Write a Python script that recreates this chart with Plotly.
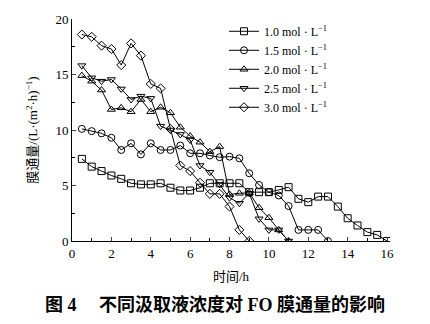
import plotly.graph_objects as go

# ---- data ----
x_10 = [0.5, 1.0, 1.5, 2.0, 2.5, 3.0, 3.5, 4.0, 4.5, 5.0, 5.5, 6.0, 6.5, 7.0, 7.5, 8.0,
        8.5, 9.0, 9.5, 10.0, 10.5, 11.0, 11.5, 12.0, 12.5, 13.0, 13.5, 14.0, 14.5, 15.0, 15.5, 16.0]
y_10 = [7.4, 6.7, 6.3, 5.9, 5.6, 5.2, 5.1, 5.1, 5.2, 4.8, 4.55, 4.55, 4.8, 5.2, 5.2, 5.2,
        5.2, 4.4, 4.4, 4.4, 4.6, 4.85, 3.8, 3.5, 4.0, 4.0, 3.1, 2.05, 1.4, 0.8, 0.55, 0.0]

x_15 = [0.5, 1.0, 1.5, 2.0, 2.5, 3.0, 3.5, 4.0, 4.5, 5.0, 5.5, 6.0, 6.5, 7.0, 7.5, 8.0,
        8.5, 9.0, 9.5, 10.0, 10.5, 11.0, 11.5, 12.0, 12.5, 13.0]
y_15 = [10.1, 9.9, 9.7, 9.3, 8.2, 8.8, 7.8, 8.8, 8.2, 8.2, 8.6, 7.9, 7.9, 7.7, 7.55, 7.6,
        7.45, 6.1, 5.05, 4.4, 4.1, 3.15, 1.0, 1.0, 1.0, 0.0]

x_20 = [0.5, 1.0, 1.5, 2.0, 2.5, 3.0, 3.5, 4.0, 4.5, 5.0, 5.5, 6.0, 6.5, 7.0, 7.5, 8.0,
        8.5, 9.0, 9.5, 10.0, 10.5, 11.0]
y_20 = [14.9, 14.4, 13.6, 11.85, 12.0, 11.65, 12.75, 11.65, 12.05, 11.55, 10.25, 9.45, 8.9, 8.05, 8.5, 4.2,
        4.3, 4.35, 3.0, 2.1, 1.0, 0.0]

x_25 = [0.5, 1.0, 1.5, 2.0, 2.5, 3.0, 3.5, 4.0, 4.5, 5.0, 5.5, 6.0, 6.5, 7.0, 7.5, 8.0,
        8.5, 9.0, 9.5, 10.0, 10.5, 11.0]
y_25 = [15.8, 14.7, 14.4, 14.55, 13.7, 12.75, 13.05, 12.85, 10.35, 10.0, 9.6, 9.1, 6.8, 6.2, 5.1, 3.9,
        3.4, 4.3, 2.0, 1.0, 1.0, 0.0]

x_30 = [0.5, 1.0, 1.5, 2.0, 2.5, 3.0, 3.5, 4.0, 4.5, 5.0, 5.5, 6.0, 6.5, 7.0, 7.5, 8.0, 8.5, 9.0]
y_30 = [18.6, 18.4, 17.6, 17.3, 15.85, 17.8, 16.7, 14.15, 13.75, 10.1, 6.8, 6.3, 5.25, 4.25, 4.25, 3.1, 1.0, 0.0]

series_names = ["1.0 mol · L<sup>−1</sup>", "1.5 mol · L<sup>−1</sup>", "2.0 mol · L<sup>−1</sup>",
                "2.5 mol · L<sup>−1</sup>", "3.0 mol · L<sup>−1</sup>"]
x_ticks = [0, 2, 4, 6, 8, 10, 12, 14, 16]
y_ticks = [0, 5, 10, 15, 20]

symbols = ["square-open", "circle-open", "triangle-up-open", "triangle-down-open", "diamond-open"]
xs = [x_10, x_15, x_20, x_25, x_30]
ys = [y_10, y_15, y_20, y_25, y_30]

SERIF = "Liberation Serif, Times New Roman, Noto Sans CJK SC, serif"

fig = go.Figure()
for name, xv, yv, sym in zip(series_names, xs, ys, symbols):
    fig.add_trace(go.Scatter(
        x=xv, y=yv, name=name, mode="lines+markers",
        line=dict(color="black", width=1),
        marker=dict(symbol=sym, size=7, color="black", line=dict(color="black", width=1)),
    ))

fig.update_layout(
    width=430, height=324,
    margin=dict(l=72, r=40, t=13, b=83),
    paper_bgcolor="white", plot_bgcolor="white",
    font=dict(family=SERIF, size=13, color="black"),
    showlegend=True,
    legend=dict(x=0.478, y=1.01, xanchor="left", yanchor="top",
                bgcolor="rgba(0,0,0,0)", font=dict(family=SERIF, size=12),
                itemwidth=30, tracegroupgap=0),
    xaxis=dict(range=[0, 16.15], tickvals=x_ticks, ticks="inside", ticklen=4,
               showline=True, linecolor="black", linewidth=1, showgrid=False, zeroline=False,
               minor=dict(dtick=1, ticks="inside", ticklen=3, tickcolor="black", showgrid=False),
               tickfont=dict(family=SERIF, size=13),
               title=dict(text="时间/h", font=dict(family=SERIF, size=13), standoff=12)),
    yaxis=dict(range=[0, 20], tickvals=y_ticks, ticks="inside", ticklen=4,
               showline=True, linecolor="black", linewidth=1, showgrid=False, zeroline=False,
               minor=dict(dtick=2.5, ticks="inside", ticklen=3, tickcolor="black", showgrid=False),
               tickfont=dict(family=SERIF, size=13),
               title=dict(text="膜通量/(L·(m<sup>2</sup>·h)<sup>−1</sup>)",
                          font=dict(family=SERIF, size=13), standoff=14)),
)

fig.add_annotation(
    text="<b>图 4\u3000 不同汲取液浓度对 FO 膜通量的影响</b>",
    xref="paper", yref="paper", x=0.45, y=-0.235, xanchor="center", yanchor="top",
    showarrow=False, font=dict(family="Liberation Serif, Noto Sans CJK SC, sans-serif", size=18, color="black"),
)

fig.write_html("out.html")
